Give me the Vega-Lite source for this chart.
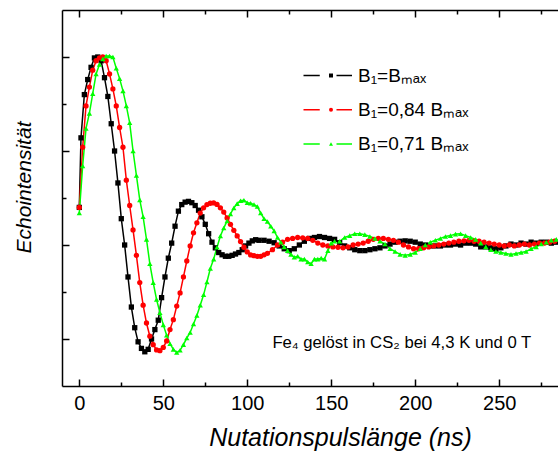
{
"$schema": "https://vega.github.io/schema/vega-lite/v6.json",
"width": 496, "height": 376,
"autosize": {"type": "none"},
"padding": {"left": 62, "top": 10, "right": 0, "bottom": 65},
"background": "white",
"config": {
  "font": "Liberation Sans",
  "view": {"stroke": null},
  "axis": {"grid": false, "domainColor": "black", "tickColor": "black", "domainWidth": 1.5, "tickWidth": 1.5, "labelColor": "black", "titleColor": "black", "labelFont": "Liberation Sans", "titleFont": "Liberation Sans"},
  "legend": {"labelFont": "Liberation Sans", "labelColor": "black"}
},
"data": {"values": [
{"s":"B₁=Bₘₐₓ","t":0,"v":0.2},{"s":"B₁=Bₘₐₓ","t":1,"v":0.57},{"s":"B₁=Bₘₐₓ","t":3,"v":0.8},{"s":"B₁=Bₘₐₓ","t":5,"v":0.88},{"s":"B₁=Bₘₐₓ","t":7,"v":0.945},{"s":"B₁=Bₘₐₓ","t":9,"v":0.995},{"s":"B₁=Bₘₐₓ","t":11,"v":1.0},{"s":"B₁=Bₘₐₓ","t":13,"v":0.98},{"s":"B₁=Bₘₐₓ","t":15,"v":0.89},{"s":"B₁=Bₘₐₓ","t":17,"v":0.79},{"s":"B₁=Bₘₐₓ","t":19,"v":0.645},{"s":"B₁=Bₘₐₓ","t":21,"v":0.5},{"s":"B₁=Bₘₐₓ","t":23,"v":0.33},{"s":"B₁=Bₘₐₓ","t":25,"v":0.14},{"s":"B₁=Bₘₐₓ","t":27,"v":0.0},{"s":"B₁=Bₘₐₓ","t":29,"v":-0.17},{"s":"B₁=Bₘₐₓ","t":31,"v":-0.33},{"s":"B₁=Bₘₐₓ","t":33,"v":-0.44},{"s":"B₁=Bₘₐₓ","t":35,"v":-0.515},{"s":"B₁=Bₘₐₓ","t":37,"v":-0.55},{"s":"B₁=Bₘₐₓ","t":39,"v":-0.568},{"s":"B₁=Bₘₐₓ","t":41,"v":-0.555},{"s":"B₁=Bₘₐₓ","t":43,"v":-0.5},{"s":"B₁=Bₘₐₓ","t":45,"v":-0.45},{"s":"B₁=Bₘₐₓ","t":47,"v":-0.4},{"s":"B₁=Bₘₐₓ","t":49,"v":-0.28},{"s":"B₁=Bₘₐₓ","t":51,"v":-0.17},{"s":"B₁=Bₘₐₓ","t":53,"v":-0.07},{"s":"B₁=Bₘₐₓ","t":55,"v":0.01},{"s":"B₁=Bₘₐₓ","t":57,"v":0.1},{"s":"B₁=Bₘₐₓ","t":59,"v":0.18},{"s":"B₁=Bₘₐₓ","t":61,"v":0.215},{"s":"B₁=Bₘₐₓ","t":63,"v":0.228},{"s":"B₁=Bₘₐₓ","t":65,"v":0.232},{"s":"B₁=Bₘₐₓ","t":67,"v":0.225},{"s":"B₁=Bₘₐₓ","t":69,"v":0.21},{"s":"B₁=Bₘₐₓ","t":71,"v":0.185},{"s":"B₁=Bₘₐₓ","t":73,"v":0.15},{"s":"B₁=Bₘₐₓ","t":75,"v":0.11},{"s":"B₁=Bₘₐₓ","t":77,"v":0.06},{"s":"B₁=Bₘₐₓ","t":79,"v":0.015},{"s":"B₁=Bₘₐₓ","t":81,"v":-0.015},{"s":"B₁=Bₘₐₓ","t":83,"v":-0.04},{"s":"B₁=Bₘₐₓ","t":85,"v":-0.052},{"s":"B₁=Bₘₐₓ","t":87,"v":-0.06},{"s":"B₁=Bₘₐₓ","t":89,"v":-0.06},{"s":"B₁=Bₘₐₓ","t":91,"v":-0.055},{"s":"B₁=Bₘₐₓ","t":93,"v":-0.048},{"s":"B₁=Bₘₐₓ","t":95,"v":-0.04},{"s":"B₁=Bₘₐₓ","t":97,"v":-0.025},{"s":"B₁=Bₘₐₓ","t":99,"v":-0.005},{"s":"B₁=Bₘₐₓ","t":101,"v":0.01},{"s":"B₁=Bₘₐₓ","t":103,"v":0.022},{"s":"B₁=Bₘₐₓ","t":105,"v":0.028},{"s":"B₁=Bₘₐₓ","t":107,"v":0.025},{"s":"B₁=Bₘₐₓ","t":110,"v":0.025},{"s":"B₁=Bₘₐₓ","t":113,"v":0.02},{"s":"B₁=Bₘₐₓ","t":116,"v":0.012},{"s":"B₁=Bₘₐₓ","t":119,"v":-0.005},{"s":"B₁=Bₘₐₓ","t":122,"v":-0.02},{"s":"B₁=Bₘₐₓ","t":125,"v":-0.03},{"s":"B₁=Bₘₐₓ","t":128,"v":-0.02},{"s":"B₁=Bₘₐₓ","t":131,"v":0.0},{"s":"B₁=Bₘₐₓ","t":134,"v":0.02},{"s":"B₁=Bₘₐₓ","t":137,"v":0.035},{"s":"B₁=Bₘₐₓ","t":140,"v":0.04},{"s":"B₁=Bₘₐₓ","t":143,"v":0.045},{"s":"B₁=Bₘₐₓ","t":146,"v":0.04},{"s":"B₁=Bₘₐₓ","t":149,"v":0.035},{"s":"B₁=Bₘₐₓ","t":152,"v":0.03},{"s":"B₁=Bₘₐₓ","t":155,"v":0.012},{"s":"B₁=Bₘₐₓ","t":158,"v":-0.005},{"s":"B₁=Bₘₐₓ","t":161,"v":-0.015},{"s":"B₁=Bₘₐₓ","t":164,"v":-0.025},{"s":"B₁=Bₘₐₓ","t":167,"v":-0.03},{"s":"B₁=Bₘₐₓ","t":170,"v":-0.03},{"s":"B₁=Bₘₐₓ","t":173,"v":-0.025},{"s":"B₁=Bₘₐₓ","t":176,"v":-0.02},{"s":"B₁=Bₘₐₓ","t":179,"v":-0.015},{"s":"B₁=Bₘₐₓ","t":182,"v":-0.005},{"s":"B₁=Bₘₐₓ","t":185,"v":0.005},{"s":"B₁=Bₘₐₓ","t":188,"v":0.015},{"s":"B₁=Bₘₐₓ","t":191,"v":0.02},{"s":"B₁=Bₘₐₓ","t":194,"v":0.022},{"s":"B₁=Bₘₐₓ","t":197,"v":0.02},{"s":"B₁=Bₘₐₓ","t":200,"v":0.015},{"s":"B₁=Bₘₐₓ","t":203,"v":0.005},{"s":"B₁=Bₘₐₓ","t":206,"v":0.0},{"s":"B₁=Bₘₐₓ","t":209,"v":-0.005},{"s":"B₁=Bₘₐₓ","t":212,"v":-0.005},{"s":"B₁=Bₘₐₓ","t":215,"v":-0.005},{"s":"B₁=Bₘₐₓ","t":218,"v":0.0},{"s":"B₁=Bₘₐₓ","t":221,"v":0.0},{"s":"B₁=Bₘₐₓ","t":224,"v":0.005},{"s":"B₁=Bₘₐₓ","t":227,"v":0.0},{"s":"B₁=Bₘₐₓ","t":230,"v":0.01},{"s":"B₁=Bₘₐₓ","t":233,"v":0.01},{"s":"B₁=Bₘₐₓ","t":236,"v":0.005},{"s":"B₁=Bₘₐₓ","t":239,"v":-0.01},{"s":"B₁=Bₘₐₓ","t":242,"v":-0.01},{"s":"B₁=Bₘₐₓ","t":245,"v":-0.015},{"s":"B₁=Bₘₐₓ","t":248,"v":-0.02},{"s":"B₁=Bₘₐₓ","t":251,"v":-0.015},{"s":"B₁=Bₘₐₓ","t":254,"v":-0.005},{"s":"B₁=Bₘₐₓ","t":257,"v":0.005},{"s":"B₁=Bₘₐₓ","t":260,"v":0.0},{"s":"B₁=Bₘₐₓ","t":263,"v":0.01},{"s":"B₁=Bₘₐₓ","t":266,"v":0.005},{"s":"B₁=Bₘₐₓ","t":269,"v":0.015},{"s":"B₁=Bₘₐₓ","t":272,"v":0.01},{"s":"B₁=Bₘₐₓ","t":275,"v":0.015},{"s":"B₁=Bₘₐₓ","t":278,"v":0.015},{"s":"B₁=Bₘₐₓ","t":281,"v":0.01},{"s":"B₁=Bₘₐₓ","t":284,"v":0.015},
{"s":"B₁=0,84 Bₘₐₓ","t":0,"v":0.2},{"s":"B₁=0,84 Bₘₐₓ","t":2,"v":0.52},{"s":"B₁=0,84 Bₘₐₓ","t":4,"v":0.74},{"s":"B₁=0,84 Bₘₐₓ","t":6,"v":0.84},{"s":"B₁=0,84 Bₘₐₓ","t":8,"v":0.93},{"s":"B₁=0,84 Bₘₐₓ","t":10,"v":0.98},{"s":"B₁=0,84 Bₘₐₓ","t":12,"v":0.995},{"s":"B₁=0,84 Bₘₐₓ","t":14,"v":1.0},{"s":"B₁=0,84 Bₘₐₓ","t":16,"v":0.98},{"s":"B₁=0,84 Bₘₐₓ","t":18,"v":0.91},{"s":"B₁=0,84 Bₘₐₓ","t":20,"v":0.83},{"s":"B₁=0,84 Bₘₐₓ","t":22,"v":0.74},{"s":"B₁=0,84 Bₘₐₓ","t":24,"v":0.625},{"s":"B₁=0,84 Bₘₐₓ","t":26,"v":0.52},{"s":"B₁=0,84 Bₘₐₓ","t":28,"v":0.345},{"s":"B₁=0,84 Bₘₐₓ","t":30,"v":0.21},{"s":"B₁=0,84 Bₘₐₓ","t":32,"v":0.08},{"s":"B₁=0,84 Bₘₐₓ","t":34,"v":-0.055},{"s":"B₁=0,84 Bₘₐₓ","t":36,"v":-0.2},{"s":"B₁=0,84 Bₘₐₓ","t":38,"v":-0.32},{"s":"B₁=0,84 Bₘₐₓ","t":40,"v":-0.415},{"s":"B₁=0,84 Bₘₐₓ","t":42,"v":-0.485},{"s":"B₁=0,84 Bₘₐₓ","t":44,"v":-0.53},{"s":"B₁=0,84 Bₘₐₓ","t":46,"v":-0.558},{"s":"B₁=0,84 Bₘₐₓ","t":48,"v":-0.562},{"s":"B₁=0,84 Bₘₐₓ","t":50,"v":-0.545},{"s":"B₁=0,84 Bₘₐₓ","t":52,"v":-0.51},{"s":"B₁=0,84 Bₘₐₓ","t":54,"v":-0.45},{"s":"B₁=0,84 Bₘₐₓ","t":56,"v":-0.397},{"s":"B₁=0,84 Bₘₐₓ","t":58,"v":-0.325},{"s":"B₁=0,84 Bₘₐₓ","t":60,"v":-0.255},{"s":"B₁=0,84 Bₘₐₓ","t":62,"v":-0.17},{"s":"B₁=0,84 Bₘₐₓ","t":64,"v":-0.085},{"s":"B₁=0,84 Bₘₐₓ","t":66,"v":-0.005},{"s":"B₁=0,84 Bₘₐₓ","t":68,"v":0.065},{"s":"B₁=0,84 Bₘₐₓ","t":70,"v":0.118},{"s":"B₁=0,84 Bₘₐₓ","t":72,"v":0.17},{"s":"B₁=0,84 Bₘₐₓ","t":74,"v":0.198},{"s":"B₁=0,84 Bₘₐₓ","t":76,"v":0.215},{"s":"B₁=0,84 Bₘₐₓ","t":78,"v":0.222},{"s":"B₁=0,84 Bₘₐₓ","t":80,"v":0.224},{"s":"B₁=0,84 Bₘₐₓ","t":82,"v":0.216},{"s":"B₁=0,84 Bₘₐₓ","t":84,"v":0.198},{"s":"B₁=0,84 Bₘₐₓ","t":86,"v":0.175},{"s":"B₁=0,84 Bₘₐₓ","t":88,"v":0.144},{"s":"B₁=0,84 Bₘₐₓ","t":90,"v":0.11},{"s":"B₁=0,84 Bₘₐₓ","t":92,"v":0.078},{"s":"B₁=0,84 Bₘₐₓ","t":94,"v":0.048},{"s":"B₁=0,84 Bₘₐₓ","t":96,"v":0.018},{"s":"B₁=0,84 Bₘₐₓ","t":98,"v":-0.012},{"s":"B₁=0,84 Bₘₐₓ","t":100,"v":-0.037},{"s":"B₁=0,84 Bₘₐₓ","t":102,"v":-0.053},{"s":"B₁=0,84 Bₘₐₓ","t":104,"v":-0.057},{"s":"B₁=0,84 Bₘₐₓ","t":106,"v":-0.06},{"s":"B₁=0,84 Bₘₐₓ","t":108,"v":-0.06},{"s":"B₁=0,84 Bₘₐₓ","t":110,"v":-0.052},{"s":"B₁=0,84 Bₘₐₓ","t":112,"v":-0.045},{"s":"B₁=0,84 Bₘₐₓ","t":115,"v":-0.025},{"s":"B₁=0,84 Bₘₐₓ","t":118,"v":0.0},{"s":"B₁=0,84 Bₘₐₓ","t":121,"v":0.015},{"s":"B₁=0,84 Bₘₐₓ","t":124,"v":0.03},{"s":"B₁=0,84 Bₘₐₓ","t":127,"v":0.035},{"s":"B₁=0,84 Bₘₐₓ","t":130,"v":0.04},{"s":"B₁=0,84 Bₘₐₓ","t":133,"v":0.038},{"s":"B₁=0,84 Bₘₐₓ","t":136,"v":0.035},{"s":"B₁=0,84 Bₘₐₓ","t":139,"v":0.025},{"s":"B₁=0,84 Bₘₐₓ","t":142,"v":0.01},{"s":"B₁=0,84 Bₘₐₓ","t":145,"v":0.0},{"s":"B₁=0,84 Bₘₐₓ","t":148,"v":-0.005},{"s":"B₁=0,84 Bₘₐₓ","t":151,"v":-0.01},{"s":"B₁=0,84 Bₘₐₓ","t":154,"v":-0.012},{"s":"B₁=0,84 Bₘₐₓ","t":157,"v":-0.015},{"s":"B₁=0,84 Bₘₐₓ","t":160,"v":-0.01},{"s":"B₁=0,84 Bₘₐₓ","t":163,"v":0.0},{"s":"B₁=0,84 Bₘₐₓ","t":166,"v":0.005},{"s":"B₁=0,84 Bₘₐₓ","t":169,"v":0.01},{"s":"B₁=0,84 Bₘₐₓ","t":172,"v":0.02},{"s":"B₁=0,84 Bₘₐₓ","t":175,"v":0.03},{"s":"B₁=0,84 Bₘₐₓ","t":178,"v":0.035},{"s":"B₁=0,84 Bₘₐₓ","t":181,"v":0.035},{"s":"B₁=0,84 Bₘₐₓ","t":184,"v":0.03},{"s":"B₁=0,84 Bₘₐₓ","t":187,"v":0.025},{"s":"B₁=0,84 Bₘₐₓ","t":190,"v":0.015},{"s":"B₁=0,84 Bₘₐₓ","t":193,"v":0.0},{"s":"B₁=0,84 Bₘₐₓ","t":196,"v":-0.01},{"s":"B₁=0,84 Bₘₐₓ","t":199,"v":-0.02},{"s":"B₁=0,84 Bₘₐₓ","t":202,"v":-0.02},{"s":"B₁=0,84 Bₘₐₓ","t":205,"v":-0.015},{"s":"B₁=0,84 Bₘₐₓ","t":208,"v":-0.01},{"s":"B₁=0,84 Bₘₐₓ","t":211,"v":-0.005},{"s":"B₁=0,84 Bₘₐₓ","t":214,"v":0.0},{"s":"B₁=0,84 Bₘₐₓ","t":217,"v":0.005},{"s":"B₁=0,84 Bₘₐₓ","t":220,"v":0.01},{"s":"B₁=0,84 Bₘₐₓ","t":223,"v":0.015},{"s":"B₁=0,84 Bₘₐₓ","t":226,"v":0.02},{"s":"B₁=0,84 Bₘₐₓ","t":229,"v":0.022},{"s":"B₁=0,84 Bₘₐₓ","t":232,"v":0.025},{"s":"B₁=0,84 Bₘₐₓ","t":235,"v":0.02},{"s":"B₁=0,84 Bₘₐₓ","t":238,"v":0.02},{"s":"B₁=0,84 Bₘₐₓ","t":241,"v":0.015},{"s":"B₁=0,84 Bₘₐₓ","t":244,"v":0.01},{"s":"B₁=0,84 Bₘₐₓ","t":247,"v":0.005},{"s":"B₁=0,84 Bₘₐₓ","t":250,"v":0.0},{"s":"B₁=0,84 Bₘₐₓ","t":253,"v":-0.005},{"s":"B₁=0,84 Bₘₐₓ","t":256,"v":0.0},{"s":"B₁=0,84 Bₘₐₓ","t":259,"v":-0.005},{"s":"B₁=0,84 Bₘₐₓ","t":262,"v":0.0},{"s":"B₁=0,84 Bₘₐₓ","t":265,"v":0.005},{"s":"B₁=0,84 Bₘₐₓ","t":268,"v":0.0},{"s":"B₁=0,84 Bₘₐₓ","t":271,"v":0.005},{"s":"B₁=0,84 Bₘₐₓ","t":274,"v":0.01},{"s":"B₁=0,84 Bₘₐₓ","t":277,"v":0.01},{"s":"B₁=0,84 Bₘₐₓ","t":280,"v":0.015},{"s":"B₁=0,84 Bₘₐₓ","t":283,"v":0.02},
{"s":"B₁=0,71 Bₘₐₓ","t":0,"v":0.17},{"s":"B₁=0,71 Bₘₐₓ","t":2,"v":0.42},{"s":"B₁=0,71 Bₘₐₓ","t":4,"v":0.62},{"s":"B₁=0,71 Bₘₐₓ","t":6,"v":0.7},{"s":"B₁=0,71 Bₘₐₓ","t":8,"v":0.805},{"s":"B₁=0,71 Bₘₐₓ","t":10,"v":0.91},{"s":"B₁=0,71 Bₘₐₓ","t":12,"v":0.96},{"s":"B₁=0,71 Bₘₐₓ","t":14,"v":0.99},{"s":"B₁=0,71 Bₘₐₓ","t":16,"v":1.005},{"s":"B₁=0,71 Bₘₐₓ","t":18,"v":1.005},{"s":"B₁=0,71 Bₘₐₓ","t":20,"v":1.0},{"s":"B₁=0,71 Bₘₐₓ","t":22,"v":0.94},{"s":"B₁=0,71 Bₘₐₓ","t":24,"v":0.885},{"s":"B₁=0,71 Bₘₐₓ","t":26,"v":0.82},{"s":"B₁=0,71 Bₘₐₓ","t":28,"v":0.74},{"s":"B₁=0,71 Bₘₐₓ","t":30,"v":0.65},{"s":"B₁=0,71 Bₘₐₓ","t":32,"v":0.5},{"s":"B₁=0,71 Bₘₐₓ","t":34,"v":0.37},{"s":"B₁=0,71 Bₘₐₓ","t":36,"v":0.24},{"s":"B₁=0,71 Bₘₐₓ","t":38,"v":0.15},{"s":"B₁=0,71 Bₘₐₓ","t":40,"v":0.03},{"s":"B₁=0,71 Bₘₐₓ","t":42,"v":-0.1},{"s":"B₁=0,71 Bₘₐₓ","t":44,"v":-0.2},{"s":"B₁=0,71 Bₘₐₓ","t":46,"v":-0.29},{"s":"B₁=0,71 Bₘₐₓ","t":48,"v":-0.36},{"s":"B₁=0,71 Bₘₐₓ","t":50,"v":-0.425},{"s":"B₁=0,71 Bₘₐₓ","t":52,"v":-0.48},{"s":"B₁=0,71 Bₘₐₓ","t":54,"v":-0.525},{"s":"B₁=0,71 Bₘₐₓ","t":56,"v":-0.555},{"s":"B₁=0,71 Bₘₐₓ","t":58,"v":-0.572},{"s":"B₁=0,71 Bₘₐₓ","t":60,"v":-0.56},{"s":"B₁=0,71 Bₘₐₓ","t":62,"v":-0.53},{"s":"B₁=0,71 Bₘₐₓ","t":64,"v":-0.495},{"s":"B₁=0,71 Bₘₐₓ","t":66,"v":-0.465},{"s":"B₁=0,71 Bₘₐₓ","t":68,"v":-0.42},{"s":"B₁=0,71 Bₘₐₓ","t":70,"v":-0.375},{"s":"B₁=0,71 Bₘₐₓ","t":72,"v":-0.32},{"s":"B₁=0,71 Bₘₐₓ","t":74,"v":-0.265},{"s":"B₁=0,71 Bₘₐₓ","t":76,"v":-0.197},{"s":"B₁=0,71 Bₘₐₓ","t":78,"v":-0.125},{"s":"B₁=0,71 Bₘₐₓ","t":80,"v":-0.075},{"s":"B₁=0,71 Bₘₐₓ","t":82,"v":-0.012},{"s":"B₁=0,71 Bₘₐₓ","t":84,"v":0.048},{"s":"B₁=0,71 Bₘₐₓ","t":86,"v":0.09},{"s":"B₁=0,71 Bₘₐₓ","t":88,"v":0.128},{"s":"B₁=0,71 Bₘₐₓ","t":90,"v":0.165},{"s":"B₁=0,71 Bₘₐₓ","t":92,"v":0.197},{"s":"B₁=0,71 Bₘₐₓ","t":94,"v":0.22},{"s":"B₁=0,71 Bₘₐₓ","t":96,"v":0.235},{"s":"B₁=0,71 Bₘₐₓ","t":98,"v":0.238},{"s":"B₁=0,71 Bₘₐₓ","t":100,"v":0.225},{"s":"B₁=0,71 Bₘₐₓ","t":102,"v":0.222},{"s":"B₁=0,71 Bₘₐₓ","t":104,"v":0.215},{"s":"B₁=0,71 Bₘₐₓ","t":106,"v":0.205},{"s":"B₁=0,71 Bₘₐₓ","t":108,"v":0.17},{"s":"B₁=0,71 Bₘₐₓ","t":110,"v":0.14},{"s":"B₁=0,71 Bₘₐₓ","t":112,"v":0.125},{"s":"B₁=0,71 Bₘₐₓ","t":114,"v":0.1},{"s":"B₁=0,71 Bₘₐₓ","t":116,"v":0.075},{"s":"B₁=0,71 Bₘₐₓ","t":118,"v":0.04},{"s":"B₁=0,71 Bₘₐₓ","t":120,"v":0.015},{"s":"B₁=0,71 Bₘₐₓ","t":122,"v":-0.01},{"s":"B₁=0,71 Bₘₐₓ","t":124,"v":-0.03},{"s":"B₁=0,71 Bₘₐₓ","t":126,"v":-0.05},{"s":"B₁=0,71 Bₘₐₓ","t":128,"v":-0.065},{"s":"B₁=0,71 Bₘₐₓ","t":130,"v":-0.06},{"s":"B₁=0,71 Bₘₐₓ","t":132,"v":-0.075},{"s":"B₁=0,71 Bₘₐₓ","t":134,"v":-0.075},{"s":"B₁=0,71 Bₘₐₓ","t":136,"v":-0.09},{"s":"B₁=0,71 Bₘₐₓ","t":138,"v":-0.1},{"s":"B₁=0,71 Bₘₐₓ","t":140,"v":-0.075},{"s":"B₁=0,71 Bₘₐₓ","t":142,"v":-0.075},{"s":"B₁=0,71 Bₘₐₓ","t":144,"v":-0.07},{"s":"B₁=0,71 Bₘₐₓ","t":146,"v":-0.075},{"s":"B₁=0,71 Bₘₐₓ","t":148,"v":-0.03},{"s":"B₁=0,71 Bₘₐₓ","t":150,"v":0.01},{"s":"B₁=0,71 Bₘₐₓ","t":152,"v":0.02},{"s":"B₁=0,71 Bₘₐₓ","t":155,"v":0.02},{"s":"B₁=0,71 Bₘₐₓ","t":158,"v":0.04},{"s":"B₁=0,71 Bₘₐₓ","t":161,"v":0.05},{"s":"B₁=0,71 Bₘₐₓ","t":164,"v":0.06},{"s":"B₁=0,71 Bₘₐₓ","t":167,"v":0.06},{"s":"B₁=0,71 Bₘₐₓ","t":170,"v":0.055},{"s":"B₁=0,71 Bₘₐₓ","t":173,"v":0.045},{"s":"B₁=0,71 Bₘₐₓ","t":176,"v":0.035},{"s":"B₁=0,71 Bₘₐₓ","t":179,"v":0.02},{"s":"B₁=0,71 Bₘₐₓ","t":182,"v":0.005},{"s":"B₁=0,71 Bₘₐₓ","t":185,"v":-0.02},{"s":"B₁=0,71 Bₘₐₓ","t":188,"v":-0.035},{"s":"B₁=0,71 Bₘₐₓ","t":191,"v":-0.05},{"s":"B₁=0,71 Bₘₐₓ","t":194,"v":-0.055},{"s":"B₁=0,71 Bₘₐₓ","t":197,"v":-0.05},{"s":"B₁=0,71 Bₘₐₓ","t":200,"v":-0.04},{"s":"B₁=0,71 Bₘₐₓ","t":203,"v":-0.02},{"s":"B₁=0,71 Bₘₐₓ","t":206,"v":0.0},{"s":"B₁=0,71 Bₘₐₓ","t":209,"v":0.015},{"s":"B₁=0,71 Bₘₐₓ","t":212,"v":0.025},{"s":"B₁=0,71 Bₘₐₓ","t":215,"v":0.035},{"s":"B₁=0,71 Bₘₐₓ","t":218,"v":0.045},{"s":"B₁=0,71 Bₘₐₓ","t":221,"v":0.05},{"s":"B₁=0,71 Bₘₐₓ","t":224,"v":0.058},{"s":"B₁=0,71 Bₘₐₓ","t":227,"v":0.06},{"s":"B₁=0,71 Bₘₐₓ","t":230,"v":0.05},{"s":"B₁=0,71 Bₘₐₓ","t":233,"v":0.04},{"s":"B₁=0,71 Bₘₐₓ","t":236,"v":0.03},{"s":"B₁=0,71 Bₘₐₓ","t":239,"v":0.01},{"s":"B₁=0,71 Bₘₐₓ","t":242,"v":-0.01},{"s":"B₁=0,71 Bₘₐₓ","t":245,"v":-0.025},{"s":"B₁=0,71 Bₘₐₓ","t":248,"v":-0.035},{"s":"B₁=0,71 Bₘₐₓ","t":251,"v":-0.04},{"s":"B₁=0,71 Bₘₐₓ","t":254,"v":-0.045},{"s":"B₁=0,71 Bₘₐₓ","t":257,"v":-0.05},{"s":"B₁=0,71 Bₘₐₓ","t":260,"v":-0.045},{"s":"B₁=0,71 Bₘₐₓ","t":263,"v":-0.04},{"s":"B₁=0,71 Bₘₐₓ","t":266,"v":-0.035},{"s":"B₁=0,71 Bₘₐₓ","t":269,"v":-0.02},{"s":"B₁=0,71 Bₘₐₓ","t":272,"v":-0.01},{"s":"B₁=0,71 Bₘₐₓ","t":275,"v":0.005},{"s":"B₁=0,71 Bₘₐₓ","t":278,"v":0.015},{"s":"B₁=0,71 Bₘₐₓ","t":281,"v":0.025},{"s":"B₁=0,71 Bₘₐₓ","t":284,"v":0.03}
]},
"layer": [
  {
    "mark": {"type": "line", "strokeWidth": 1.5},
    "encoding": {
      "x": {"field": "t", "type": "quantitative",
        "scale": {"domain": [-10.3, 285], "nice": false, "zero": false},
        "axis": {"orient": "bottom", "values": [0,50,100,150,200,250], "tickSize": -7,
          "labelFontSize": 20, "labelPadding": 14, "labelFlush": false,
          "title": "Nutationspulslänge (ns)", "titleFontSize": 25, "titleFontStyle": "italic", "titleFontWeight": "normal",
          "titleX": 278, "titleY": 59, "titleBaseline": "alphabetic", "titleAlign": "center"}},
      "y": {"field": "v", "type": "quantitative",
        "scale": {"domain": [-0.75, 1.25], "nice": false, "zero": false},
        "axis": {"orient": "left", "values": [-0.5,0,0.5,1], "labels": false, "tickSize": -7,
          "title": "Echointensität", "titleFontSize": 21, "titleFontStyle": "italic", "titleFontWeight": "normal",
          "titleX": -32, "titleY": 177, "titleBaseline": "alphabetic", "titleAlign": "center", "titleAngle": -90}},
      "stroke": {"field": "s", "type": "nominal", "sort": null,
        "scale": {"range": ["#000000", "#ff0000", "#00ff00"]},
        "legend": {"orient": "none", "legendX": 256.5, "legendY": 56, "title": null, "padding": 0,
          "symbolType": "M-4.9,0L-1.65,0M1.7,0L4.8,0", "symbolSize": 100, "symbolStrokeWidth": 1.5,
          "labelFontSize": 19, "labelOffset": 20.5, "rowPadding": 14.2, "labelLimit": 300}}
    }
  },
  {
    "transform": [{"filter": {"not": {"field": "s", "equal": "B₁=0,71 Bₘₐₓ"}}}],
    "mark": {"type": "point", "filled": true, "size": 28, "opacity": 1},
    "encoding": {
      "x": {"field": "t", "type": "quantitative",
        "axis": {"orient": "top", "values": [0,50,100,150,200,250], "labels": false, "title": null, "tickSize": -7}},
      "y": {"field": "v", "type": "quantitative",
        "axis": {"orient": "left", "values": [-0.25,0.25,0.75], "labels": false, "title": null, "domain": false, "tickSize": -4}},
      "fill": {"field": "s", "type": "nominal",
        "scale": {"domain": ["B₁=Bₘₐₓ", "B₁=0,84 Bₘₐₓ", "B₁=0,71 Bₘₐₓ"], "range": ["#000000", "#ff0000", "#00ff00"]},
        "legend": {"orient": "none", "legendX": 259.5, "legendY": 56, "title": null, "padding": 0,
          "symbolSize": 16, "labelFontSize": 19, "labelExpr": "''", "rowPadding": 14.2}},
      "shape": {"field": "s", "type": "nominal",
        "scale": {"domain": ["B₁=Bₘₐₓ", "B₁=0,84 Bₘₐₓ", "B₁=0,71 Bₘₐₓ"], "range": ["square", "circle", "triangle-up"]},
        "legend": {"orient": "none", "legendX": 259.5, "legendY": 56, "title": null, "padding": 0,
          "symbolSize": 16, "labelFontSize": 19, "labelExpr": "''", "rowPadding": 14.2}}
    }
  },
  {
    "data": {"values": [{"label": "Fe₄ gelöst in CS₂ bei 4,3 K und 0 T"}]},
    "mark": {"type": "text", "fontSize": 16.7, "font": "Liberation Sans", "color": "black", "align": "center", "baseline": "middle"},
    "encoding": {
      "x": {"datum": 192, "type": "quantitative",
        "axis": {"orient": "bottom", "values": [25,75,125,175,225,275], "labels": false, "title": null, "domain": false, "tickSize": -4}},
      "y": {"datum": -0.52, "type": "quantitative", "axis": null},
      "text": {"field": "label"}
    }
  },
  {
    "transform": [{"filter": {"field": "s", "equal": "B₁=0,71 Bₘₐₓ"}}],
    "mark": {"type": "point", "filled": true, "size": 28, "opacity": 1},
    "encoding": {
      "x": {"field": "t", "type": "quantitative",
        "axis": {"orient": "top", "values": [25,75,125,175,225,275], "labels": false, "title": null, "domain": false, "tickSize": -4}},
      "y": {"field": "v", "type": "quantitative", "axis": null},
      "fill": {"field": "s", "type": "nominal"},
      "shape": {"field": "s", "type": "nominal"}
    }
  }
],
"resolve": {"axis": {"x": "independent", "y": "independent"}}
}
